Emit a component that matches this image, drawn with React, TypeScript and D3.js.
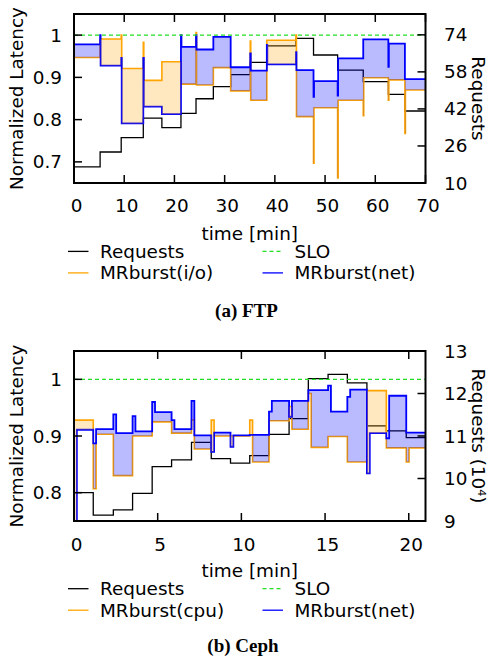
import React from "react";
import * as d3 from "d3";

type Pt = [number, number];

// (a) FTP: step start times [min] and per-step values
const ftpTimes = [0, 5.2, 9.4, 13.8, 17.5, 21.3, 24.3, 27.75, 31.2, 35.1, 38.4, 44.2, 47.7, 52.5, 57.6, 62.6, 65.9];
const ftpRequests = [17, 23.4, 29.6, 38, 33.9, 40.1, 46.4, 51.6, 56.8, 62.1, 69.2, 72.5, 65.3, 58.8, 53.8, 48.3, 41.1];
const ftpIo = [0.947, 0.991, 0.921, 0.893, 0.937, 0.884, 0.882, 0.923, 0.868, 0.846, 0.988, 0.807, 0.828, 0.846, 0.899, 0.894, 0.87];
const ftpNet = [0.978, 0.928, 0.791, 0.831, 0.813, 0.972, 0.966, 0.996, 0.924, 0.916, 0.931, 0.917, 0.891, 0.945, 0.99, 0.98, 0.896];
const ftpIoSpikes: Pt[] = [[9.4, 1.0], [13.8, 0.983], [24.3, 1.006], [35.1, 0.986], [44.2, 1.0], [47.7, 0.697], [52.5, 0.662], [57.6, 0.809], [62.6, 0.846], [65.9, 0.767]];
const ftpNetSpikes: Pt[] = [[5.2, 1.0], [9.4, 0.946], [13.8, 0.946], [21.3, 1.0], [24.3, 1.0], [35.1, 0.957], [38.4, 0.977], [44.2, 0.96], [47.7, 0.854], [52.5, 0.857], [62.6, 0.925]];
const ftpTimeTicks = [0, 10, 20, 30, 40, 50, 60, 70];
const ftpLatTicks = [0.7, 0.8, 0.9, 1];
const ftpReqTicks = [10, 26, 42, 58, 74];

// (b) Ceph
const cephTimes = [0, 1.15, 2.35, 3.5, 4.67, 5.83, 7.02, 8.2, 9.35, 10.5, 11.65, 12.85, 14.0, 15.18, 16.33, 17.5, 18.66, 19.85];
const cephRequests = [9.67, 9.14, 9.26, 9.65, 10.28, 10.44, 10.85, 10.47, 10.36, 10.54, 11.04, 11.41, 12.35, 12.45, 12.25, 11.24, 11.12, 10.96];
const cephCpu = [0.928, 0.903, 0.83, 0.9, 0.925, 0.905, 0.877, 0.9, 0.9, 0.854, 0.927, 0.912, 0.88, 0.899, 0.854, 0.98, 0.879, 0.879];
const cephNet = [0.911, 0.912, 0.905, 0.908, 0.942, 0.912, 0.901, 0.906, 0.901, 0.902, 0.962, 0.962, 0.981, 0.943, 0.982, 0.905, 0.971, 0.906];
const cephCpuSpikes: Pt[] = [[1.15, 0.807], [7.02, 0.928], [8.2, 0.928], [10.5, 0.928], [12.85, 0.952], [14.0, 0.975], [19.85, 0.854]];
const cephNetSpikes: Pt[] = [[0, 0.7], [1.15, 0.887], [2.35, 0.938], [3.5, 0.935], [4.67, 0.96], [5.83, 0.928], [7.02, 0.962], [8.2, 0.872], [9.35, 0.881], [11.65, 0.943], [12.85, 0.934], [15.18, 0.989], [16.33, 0.969], [17.5, 0.834], [18.66, 0.896]];
const cephTimeTicks = [0, 5, 10, 15, 20];
const cephLatTicks = [0.8, 0.9, 1];
const cephReqTicks = [9, 10, 11, 12, 13];

const SLO = 1;
const FONT = "DejaVu Sans";
const FS = 18.4;
const LEFT = 74;
const RIGHT = 425.5;
const ORANGE = "#ffa500";
const BLUE = "#0000ff";
const GREEN = "#22dd22";

function stepPoints(times: number[], values: number[], spikes: Pt[], dt: number, end: number): Pt[] {
  const pts: Pt[] = [];
  times.forEach((t, i) => {
    const s = spikes.find(d => Math.abs(d[0] - t) < 1e-6);
    if (s) {
      pts.push([t, s[1]]);
      pts.push([t + dt, values[i]]);
    } else pts.push([t, values[i]]);
  });
  pts.push([end, values[values.length - 1]]);
  return pts;
}

function valueAt(pts: Pt[], x: number) {
  let v = pts[0][1];
  for (const p of pts) if (p[0] <= x + 1e-9) v = p[1];
  return v;
}

function Panel(props: any) {
  const { id, top, bottom, xMax, latDomain, reqDomain, times, requests, a, b, spikesA, spikesB, dt,
    timeTicks, latTicks, reqTicks, labelA, reqLabel, tickBase, titleBase, legendBase, caption, captionX, captionBase } = props;

  const x = d3.scaleLinear().domain([0, xMax]).range([LEFT, RIGHT]);
  const yL = d3.scaleLinear().domain(latDomain).range([bottom, top]);
  const yR = d3.scaleLinear().domain(reqDomain).range([bottom, top]);

  const ptsA = stepPoints(times, a, spikesA, dt, xMax);
  const ptsB = stepPoints(times, b, spikesB, dt, xMax);
  const ptsR = stepPoints(times, requests, [], dt, xMax);

  const line = (ys: d3.ScaleLinear<number, number>) =>
    d3.line<Pt>().x(d => x(d[0])).y(d => ys(d[1])).curve(d3.curveStepAfter);

  // common breakpoints so the band between the two latency curves can be filled
  const xs = Array.from(new Set([...ptsA, ...ptsB].map(p => p[0]))).sort((p, q) => p - q);
  const merged = xs.map(t => ({ t, a: valueAt(ptsA, t), b: valueAt(ptsB, t) }));
  const fillA = d3.area<any>().x(d => x(d.t)).y0(d => yL(d.b)).y1(d => yL(Math.max(d.a, d.b))).curve(d3.curveStepAfter);
  const fillB = d3.area<any>().x(d => x(d.t)).y0(d => yL(d.a)).y1(d => yL(Math.max(d.a, d.b))).curve(d3.curveStepAfter);

  const legend = [
    { label: "Requests", color: "#000", dash: undefined, col: 0, row: 0 },
    { label: "SLO", color: GREEN, dash: "4,3", col: 1, row: 0 },
    { label: labelA, color: ORANGE, dash: undefined, col: 0, row: 1 },
    { label: "MRburst(net)", color: BLUE, dash: undefined, col: 1, row: 1 },
  ];
  const colX = [68, 262.5];
  const midY = (top + bottom) / 2;

  return (
    <g fontFamily={FONT} fontSize={FS} fill="#000">
      <defs>
        <clipPath id={id}>
          <rect x={LEFT} y={top} width={RIGHT - LEFT} height={bottom - top} />
        </clipPath>
      </defs>
      <g clipPath={`url(#${id})`}>
        <path d={line(yR)(ptsR) || ""} fill="none" stroke="#000" strokeWidth={1.3} />
        <path d={line(yL)(ptsA) || ""} fill="none" stroke={ORANGE} strokeWidth={1.6} />
        <path d={line(yL)(ptsB) || ""} fill="none" stroke={BLUE} strokeWidth={1.8} />
        <path d={fillA(merged) || ""} fill="rgba(255,165,0,0.25)" stroke="none" />
        <path d={fillB(merged) || ""} fill="rgba(0,0,255,0.27)" stroke="none" />
        <line x1={LEFT} x2={RIGHT} y1={yL(SLO)} y2={yL(SLO)} stroke={GREEN} strokeWidth={1.2} strokeDasharray="4,3" />
      </g>
      <rect x={LEFT} y={top} width={RIGHT - LEFT} height={bottom - top} fill="none" stroke="#000" strokeWidth={2} />
      {timeTicks.map((t: number) => (
        <g key={"t" + t}>
          <line x1={x(t)} x2={x(t)} y1={bottom} y2={bottom - 8} stroke="#000" strokeWidth={1.5} />
          <line x1={x(t)} x2={x(t)} y1={top} y2={top + 8} stroke="#000" strokeWidth={1.5} />
          <text x={x(t) + 2.5} y={tickBase} textAnchor="middle">{t}</text>
        </g>
      ))}
      {latTicks.map((v: number) => (
        <g key={"l" + v}>
          <line x1={LEFT} x2={LEFT + 8} y1={yL(v)} y2={yL(v)} stroke="#000" strokeWidth={1.5} />
          <text x={62} y={yL(v) + 6.5} textAnchor="end">{v}</text>
        </g>
      ))}
      {reqTicks.map((v: number) => (
        <g key={"r" + v}>
          <line x1={RIGHT} x2={RIGHT - 8} y1={yR(v)} y2={yR(v)} stroke="#000" strokeWidth={1.5} />
          <text x={444} y={yR(v) + 6.5} textAnchor="start">{v}</text>
        </g>
      ))}
      <text transform={`translate(23.4,${midY}) rotate(-90)`} textAnchor="middle">Normalized Latency</text>
      <text transform={`translate(472,${midY}) rotate(90)`} textAnchor="middle">{reqLabel}</text>
      <text x={(LEFT + RIGHT) / 2} y={titleBase} textAnchor="middle">time [min]</text>
      {legend.map(l => {
        const base = legendBase + l.row * 21.5;
        return (
          <g key={l.label}>
            <line x1={colX[l.col]} x2={colX[l.col] + 20.5} y1={base - 6.3} y2={base - 6.3}
              stroke={l.color} strokeWidth={1.3} strokeDasharray={l.dash} />
            <text x={colX[l.col] + 32} y={base}>{l.label}</text>
          </g>
        );
      })}
      <text x={captionX} y={captionBase} textAnchor="middle" fontFamily="Liberation Serif" fontWeight="bold" fontSize={19}>{caption}</text>
    </g>
  );
}

export default function App() {
  return (
    <svg width={488} height={658} style={{ position: "absolute", left: 0, top: 0, background: "#fff" }}>
      <Panel id="ftp" top={14} bottom={183} xMax={70} latDomain={[0.65, 1.05]} reqDomain={[10, 83]}
        times={ftpTimes} requests={ftpRequests} a={ftpIo} b={ftpNet} spikesA={ftpIoSpikes} spikesB={ftpNetSpikes} dt={0.1}
        timeTicks={ftpTimeTicks} latTicks={ftpLatTicks} reqTicks={ftpReqTicks}
        labelA="MRburst(i/o)" reqLabel="Requests" tickBase={212} titleBase={239.5} legendBase={257.7}
        caption="(a) FTP" captionX={246.5} captionBase={317} />
      <Panel id="ceph" top={351} bottom={521} xMax={21} latDomain={[0.75, 1.05]} reqDomain={[9, 13]}
        times={cephTimes} requests={cephRequests} a={cephCpu} b={cephNet} spikesA={cephCpuSpikes} spikesB={cephNetSpikes} dt={0.17}
        timeTicks={cephTimeTicks} latTicks={cephLatTicks} reqTicks={cephReqTicks}
        labelA="MRburst(cpu)" reqLabel={<>Requests (10<tspan dy={-5.5} fontSize={11}>4</tspan><tspan dy={5.5}>)</tspan></>}
        tickBase={550.5} titleBase={577} legendBase={595} caption="(b) Ceph" captionX={243} captionBase={652} />
    </svg>
  );
}
